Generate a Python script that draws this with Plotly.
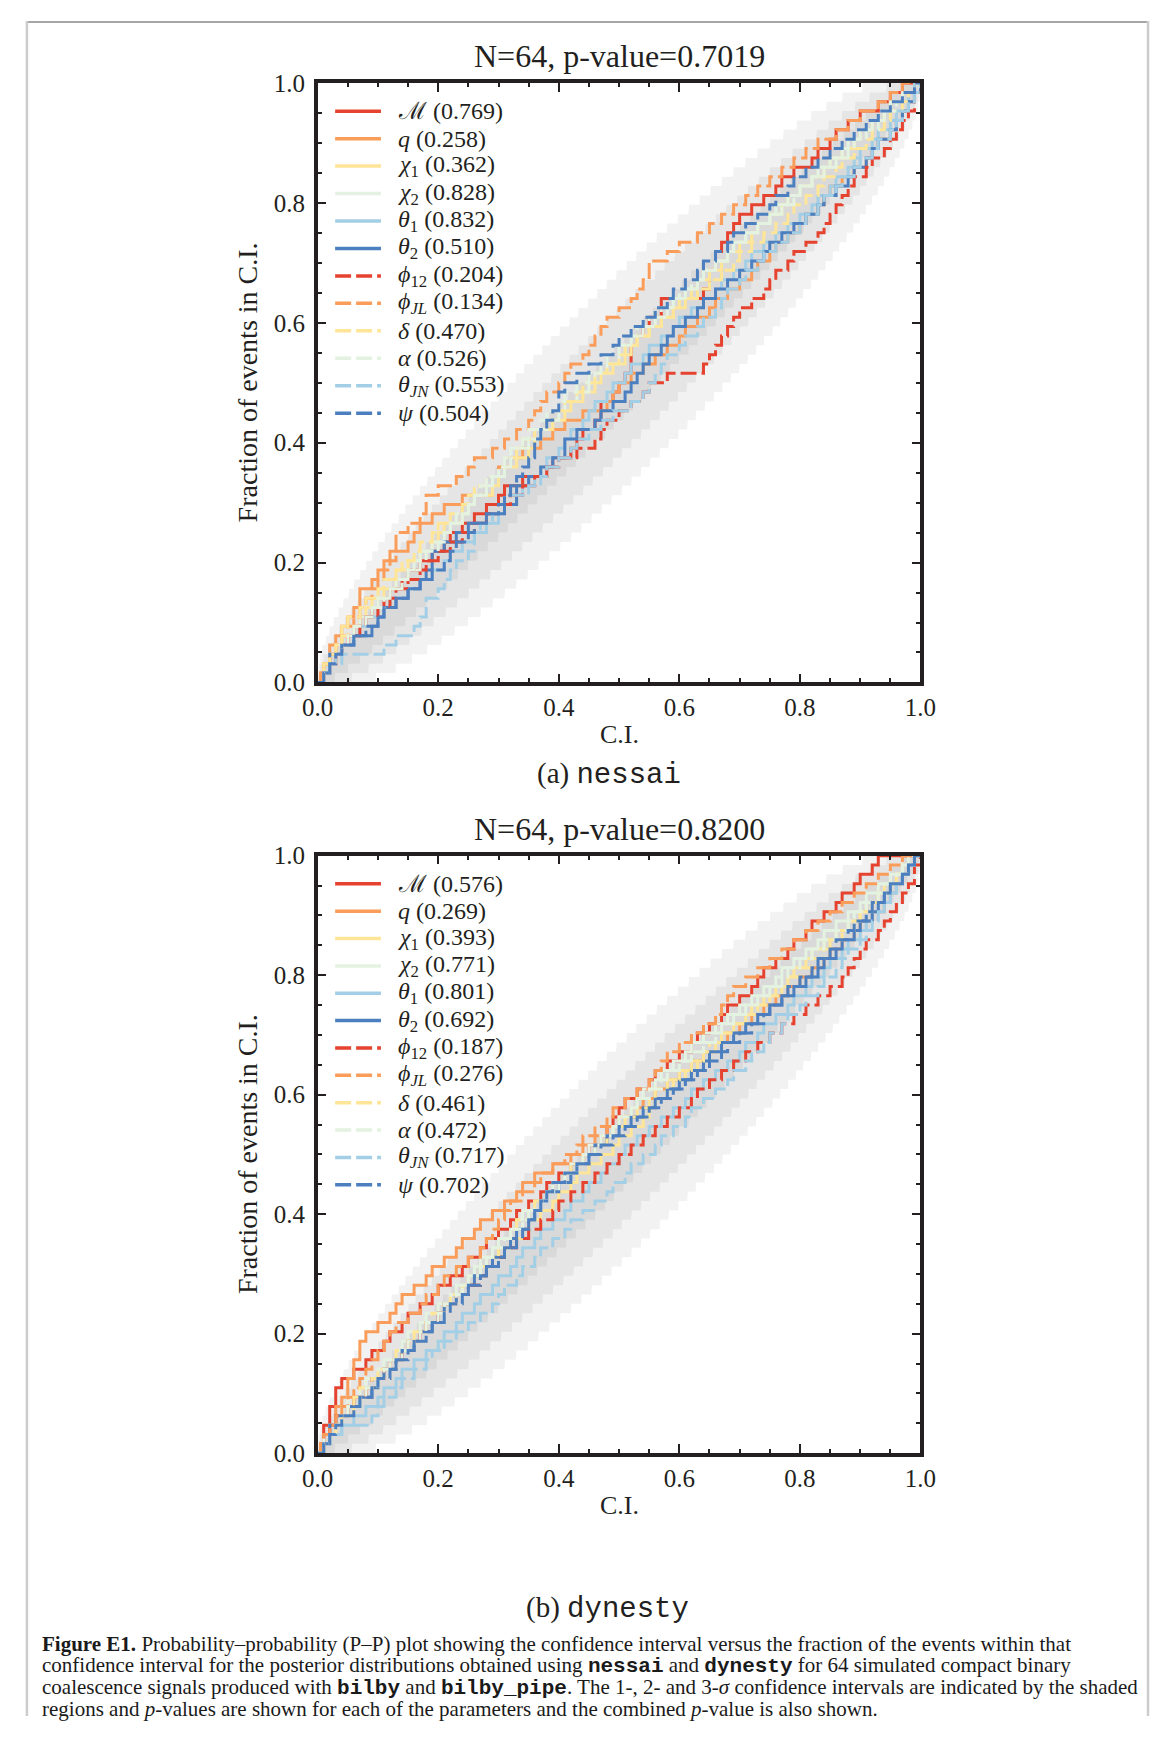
import math
import plotly.graph_objects as go

# page size in px; the html body adds an 8px margin on every side,
# so the figure is made smaller to avoid page overflow
W, H = 1173, 1738
OFF = 8
FW, FH = W - 2 * OFF, H - 2 * OFF

n_events = 64
conf_levels = [0.68, 0.95, 0.997]

param_labels = ['ℳ', '<i>q</i>', '<i>χ</i><sub>1</sub>', '<i>χ</i><sub>2</sub>',
                '<i>θ</i><sub>1</sub>', '<i>θ</i><sub>2</sub>', '<i>ϕ</i><sub>12</sub>',
                '<i>ϕ</i><sub><i>JL</i></sub>', '<i>δ</i>', '<i>α</i>',
                '<i>θ</i><sub><i>JN</i></sub>', '<i>ψ</i>']
param_colors = ['#e5432f', '#fb9d5a', '#fee597', '#e4f2e1', '#a3cfe6', '#4c7fbf',
                '#e5432f', '#fb9d5a', '#fee597', '#e4f2e1', '#a3cfe6', '#4c7fbf']
param_dash = ['solid'] * 6 + ['16px,5px'] * 6

pvals_nessai = [0.769, 0.258, 0.362, 0.828, 0.832, 0.510, 0.204, 0.134, 0.470, 0.526, 0.553, 0.504]
pvals_dynesty = [0.576, 0.269, 0.393, 0.771, 0.801, 0.692, 0.187, 0.276, 0.461, 0.472, 0.717, 0.702]
combined_p = [0.7019, 0.8200]

# sorted credible levels of the 64 injections, per parameter
nessai_mc = [.01,.02,.03,.03,.05,.06,.07,.09,.11,.12,.14,.15,.17,.19,.21,.22,.24,.26,.28,.30,.31,.34,.38,.39,.42,.43,.44,.46,.47,.47,.49,.50,.51,.52,.52,.52,.53,.54,.55,.57,.57,.64,.65,.65,.66,.66,.67,.68,.69,.70,.72,.74,.76,.77,.79,.82,.83,.85,.86,.88,.90,.93,.95,.97]
nessai_q = [.005,.01,.02,.02,.03,.04,.05,.06,.07,.07,.09,.10,.11,.12,.15,.16,.17,.19,.21,.24,.29,.29,.30,.32,.34,.37,.39,.41,.44,.48,.49,.50,.52,.54,.56,.58,.60,.61,.63,.65,.66,.68,.70,.72,.73,.75,.76,.78,.80,.81,.83,.84,.85,.87,.89,.91,.92,.93,.95,.96,.97,.98,.99,1.0]
nessai_chi1 = [.01,.01,.02,.03,.04,.04,.07,.08,.09,.11,.13,.13,.15,.17,.19,.20,.21,.24,.25,.26,.29,.30,.31,.33,.35,.36,.37,.39,.41,.42,.44,.46,.47,.49,.51,.52,.53,.55,.57,.59,.60,.62,.63,.65,.67,.68,.70,.72,.73,.75,.77,.78,.80,.82,.84,.85,.87,.89,.90,.92,.94,.95,.97,.99]
nessai_chi2 = [.01,.02,.02,.03,.05,.06,.07,.09,.10,.12,.13,.15,.16,.17,.19,.21,.22,.24,.25,.26,.28,.29,.31,.32,.33,.35,.37,.38,.40,.41,.43,.45,.46,.48,.50,.51,.53,.54,.56,.58,.59,.61,.63,.64,.66,.68,.69,.71,.73,.75,.76,.78,.80,.82,.83,.85,.87,.88,.90,.92,.94,.95,.97,.99]
nessai_theta1 = [.01,.02,.03,.04,.06,.07,.08,.10,.12,.15,.17,.19,.21,.22,.24,.26,.28,.30,.31,.33,.34,.36,.37,.38,.40,.41,.42,.44,.45,.46,.48,.49,.51,.52,.54,.55,.57,.59,.60,.62,.64,.66,.67,.69,.71,.72,.74,.76,.78,.80,.82,.83,.85,.86,.88,.89,.90,.92,.93,.95,.96,.97,.98,.99]
nessai_theta2 = [.01,.02,.02,.04,.06,.09,.10,.11,.13,.15,.17,.18,.19,.19,.21,.23,.25,.28,.31,.33,.33,.35,.37,.39,.41,.41,.43,.46,.47,.49,.51,.52,.53,.54,.55,.57,.58,.59,.61,.63,.64,.66,.68,.70,.72,.74,.75,.77,.79,.81,.83,.84,.86,.88,.89,.91,.92,.93,.95,.96,.97,.98,.99,1.0]
nessai_phi12 = [.01,.02,.03,.04,.05,.07,.08,.10,.12,.13,.15,.17,.18,.20,.22,.24,.26,.28,.30,.32,.34,.36,.38,.40,.43,.46,.47,.48,.50,.52,.54,.55,.58,.64,.65,.66,.67,.68,.69,.70,.72,.74,.75,.76,.78,.79,.81,.83,.84,.85,.86,.87,.88,.89,.91,.92,.94,.95,.96,.97,.98,.99,.99,1.0]
nessai_phijl = [.005,.01,.02,.03,.04,.05,.06,.07,.08,.09,.10,.11,.12,.13,.13,.13,.15,.17,.18,.18,.20,.23,.25,.26,.29,.31,.33,.35,.36,.37,.38,.40,.41,.42,.44,.45,.46,.47,.48,.50,.52,.53,.54,.55,.55,.58,.60,.63,.65,.67,.69,.71,.73,.75,.77,.79,.81,.83,.86,.88,.90,.93,.95,.97]
nessai_delta = [.01,.01,.02,.03,.04,.05,.05,.07,.08,.10,.11,.13,.14,.16,.17,.19,.20,.22,.24,.25,.26,.28,.30,.31,.33,.34,.36,.38,.39,.41,.43,.44,.46,.48,.50,.51,.53,.55,.57,.59,.61,.63,.65,.67,.69,.70,.72,.74,.76,.78,.79,.81,.83,.84,.86,.87,.89,.91,.92,.94,.95,.97,.98,.99]
nessai_alpha = [.01,.02,.03,.04,.05,.06,.08,.09,.11,.12,.14,.15,.17,.18,.20,.21,.22,.23,.25,.26,.27,.28,.30,.31,.32,.34,.35,.37,.38,.40,.41,.43,.45,.47,.48,.50,.52,.53,.55,.57,.59,.60,.62,.64,.66,.68,.69,.71,.73,.75,.77,.79,.80,.82,.84,.86,.88,.89,.91,.93,.94,.96,.97,.99]
nessai_thetajn = [.01,.02,.04,.11,.13,.16,.17,.18,.18,.20,.21,.22,.23,.25,.26,.26,.27,.29,.30,.31,.35,.37,.38,.40,.42,.43,.45,.47,.49,.52,.54,.55,.56,.57,.58,.60,.61,.63,.64,.66,.67,.68,.70,.71,.73,.74,.76,.78,.80,.81,.83,.84,.86,.87,.89,.90,.92,.93,.95,.96,.97,.98,.99,1.0]
nessai_psi = [.01,.02,.03,.04,.06,.08,.10,.11,.13,.15,.17,.19,.21,.22,.23,.25,.26,.28,.30,.31,.32,.33,.34,.35,.36,.36,.37,.38,.39,.40,.40,.41,.43,.45,.47,.49,.50,.52,.54,.56,.58,.59,.61,.63,.64,.66,.68,.69,.71,.73,.75,.76,.78,.79,.81,.83,.85,.87,.89,.91,.93,.95,.97,.99]

dynesty_mc = [.005,.01,.01,.02,.02,.03,.03,.04,.06,.08,.09,.11,.12,.14,.15,.17,.19,.20,.22,.24,.25,.27,.28,.30,.32,.33,.35,.37,.38,.40,.42,.44,.45,.47,.48,.49,.50,.51,.53,.55,.56,.58,.60,.62,.63,.65,.67,.68,.70,.72,.73,.74,.76,.78,.79,.81,.82,.84,.86,.87,.89,.90,.92,.93]
dynesty_q = [.005,.01,.02,.03,.03,.04,.05,.05,.06,.06,.07,.07,.08,.10,.12,.13,.14,.16,.18,.19,.21,.23,.24,.26,.27,.29,.31,.33,.34,.36,.39,.42,.44,.46,.48,.50,.52,.54,.56,.58,.60,.62,.64,.66,.68,.70,.72,.74,.76,.78,.80,.82,.84,.85,.87,.89,.90,.92,.94,.95,.96,.97,.98,.99]
dynesty_chi1 = [.01,.02,.03,.04,.06,.07,.08,.10,.11,.13,.14,.16,.17,.19,.20,.21,.23,.24,.26,.27,.29,.31,.32,.34,.35,.37,.39,.40,.42,.43,.45,.47,.49,.50,.52,.54,.55,.56,.58,.59,.61,.63,.64,.66,.67,.69,.71,.72,.74,.76,.78,.79,.81,.82,.84,.86,.88,.90,.91,.93,.94,.96,.97,.99]
dynesty_chi2 = [.01,.01,.02,.03,.04,.05,.07,.08,.10,.11,.13,.14,.15,.17,.18,.20,.22,.23,.25,.26,.27,.29,.30,.32,.33,.34,.36,.38,.39,.41,.42,.44,.45,.47,.49,.50,.52,.53,.54,.56,.57,.59,.61,.62,.64,.66,.68,.70,.72,.74,.76,.77,.79,.81,.83,.84,.86,.88,.90,.91,.93,.95,.97,.98]
dynesty_theta1 = [.01,.02,.04,.06,.08,.10,.11,.13,.14,.16,.18,.20,.21,.23,.24,.26,.27,.29,.30,.32,.33,.34,.36,.37,.39,.41,.42,.44,.45,.47,.48,.50,.51,.53,.55,.57,.59,.61,.62,.64,.66,.68,.70,.71,.73,.74,.76,.78,.79,.81,.82,.84,.85,.87,.88,.90,.91,.92,.94,.95,.96,.97,.98,.99]
dynesty_theta2 = [.01,.02,.02,.03,.05,.07,.09,.10,.11,.13,.14,.16,.17,.19,.20,.21,.23,.25,.26,.28,.29,.31,.32,.33,.35,.36,.37,.38,.40,.42,.43,.45,.46,.48,.50,.52,.54,.56,.58,.60,.62,.64,.65,.67,.69,.71,.73,.75,.77,.79,.81,.83,.84,.86,.87,.89,.90,.92,.93,.94,.95,.97,.98,.99]
dynesty_phi12 = [.01,.01,.02,.03,.05,.06,.08,.09,.11,.12,.14,.15,.17,.18,.20,.21,.23,.25,.27,.28,.30,.31,.33,.35,.37,.39,.40,.42,.44,.46,.48,.50,.52,.54,.56,.58,.60,.62,.63,.65,.67,.69,.71,.73,.75,.77,.79,.81,.83,.85,.87,.88,.89,.90,.91,.93,.94,.95,.96,.97,.98,.99,.99,1.0]
dynesty_phijl = [.005,.01,.02,.03,.04,.05,.06,.07,.08,.09,.10,.11,.12,.13,.15,.17,.18,.20,.21,.23,.25,.27,.28,.29,.30,.31,.32,.34,.36,.37,.39,.41,.43,.44,.46,.48,.49,.51,.53,.55,.56,.57,.58,.60,.62,.64,.66,.67,.68,.69,.71,.73,.75,.77,.79,.81,.83,.85,.87,.89,.91,.93,.95,.97]
dynesty_delta = [.01,.02,.03,.04,.05,.06,.07,.09,.10,.12,.13,.15,.16,.18,.19,.21,.22,.24,.25,.27,.28,.30,.31,.32,.33,.35,.36,.38,.39,.41,.42,.44,.46,.48,.49,.51,.53,.55,.56,.58,.60,.62,.64,.65,.67,.69,.71,.73,.75,.77,.78,.80,.82,.84,.85,.87,.89,.90,.92,.93,.95,.96,.98,.99]
dynesty_alpha = [.01,.02,.03,.04,.05,.07,.08,.10,.11,.12,.14,.15,.17,.18,.20,.21,.23,.24,.25,.27,.28,.29,.31,.32,.34,.35,.37,.38,.40,.41,.43,.44,.46,.47,.49,.50,.52,.53,.55,.57,.58,.60,.62,.64,.66,.67,.69,.71,.73,.75,.77,.78,.80,.82,.84,.86,.88,.89,.91,.93,.94,.96,.97,.99]
dynesty_thetajn = [.01,.02,.04,.09,.10,.11,.13,.14,.16,.18,.19,.21,.23,.25,.27,.29,.30,.31,.33,.34,.36,.37,.39,.41,.42,.44,.46,.48,.49,.51,.52,.54,.56,.57,.59,.61,.62,.64,.66,.68,.69,.71,.72,.74,.75,.77,.78,.80,.81,.83,.84,.86,.87,.88,.90,.91,.92,.93,.94,.95,.96,.97,.98,.99]
dynesty_psi = [.01,.02,.03,.04,.06,.07,.09,.10,.12,.13,.15,.16,.18,.19,.21,.22,.24,.25,.27,.28,.30,.31,.33,.34,.35,.36,.37,.38,.39,.41,.43,.45,.47,.49,.51,.53,.55,.57,.59,.61,.63,.65,.67,.68,.70,.72,.74,.75,.77,.78,.80,.82,.83,.85,.86,.88,.89,.91,.92,.94,.95,.97,.98,.99]

nessai_levels = [nessai_mc, nessai_q, nessai_chi1, nessai_chi2, nessai_theta1, nessai_theta2,
                 nessai_phi12, nessai_phijl, nessai_delta, nessai_alpha, nessai_thetajn, nessai_psi]
dynesty_levels = [dynesty_mc, dynesty_q, dynesty_chi1, dynesty_chi2, dynesty_theta1, dynesty_theta2,
                  dynesty_phi12, dynesty_phijl, dynesty_delta, dynesty_alpha, dynesty_thetajn, dynesty_psi]

SERIF = 'Liberation Serif'
INK = '#231f20'


# page px -> paper fraction
def px(x):
    return (x - OFF) / FW


def py(y):
    return 1 - (y - OFF) / FH


def binom_ppf(q, n, p):
    if p <= 0:
        return 0
    if p >= 1:
        return n
    cdf = 0.0
    for k in range(n + 1):
        cdf += math.comb(n, k) * p ** k * (1 - p) ** (n - k)
        if cdf >= q - 1e-12:
            return k
    return n


grid = [i / 1000 for i in range(1001)]

fig = go.Figure()

panels = [
    dict(xa='x', ya='y', levels=nessai_levels, pvals=pvals_nessai, comb=combined_p[0]),
    dict(xa='x2', ya='y2', levels=dynesty_levels, pvals=pvals_dynesty, comb=combined_p[1]),
]

for pan in panels:
    # 1-, 2-, 3-sigma bands
    for ci in conf_levels:
        edge = (1 - ci) / 2
        hi = [binom_ppf(1 - edge, n_events, g) / n_events for g in grid]
        lo = [binom_ppf(edge, n_events, g) / n_events for g in grid]
        hi[0] = 0
        lo[0] = 0
        fig.add_trace(go.Scatter(
            x=grid + grid[::-1], y=hi + lo[::-1], fill='toself',
            fillcolor='rgba(0,0,0,0.05)', line=dict(width=0), mode='lines',
            hoverinfo='skip', showlegend=False, xaxis=pan['xa'], yaxis=pan['ya']))
    # pp curves
    for i, lev in enumerate(pan['levels']):
        xs = [0.0] + list(lev) + [1.0]
        ys = [0.0] + [(k + 1) / n_events for k in range(len(lev))] + [1.0]
        fig.add_trace(go.Scatter(
            x=xs, y=ys, mode='lines', line_shape='hv',
            line=dict(color=param_colors[i], width=3, dash=param_dash[i]),
            showlegend=False, xaxis=pan['xa'], yaxis=pan['ya']))

axis_common = dict(
    range=[0, 1], showgrid=False, zeroline=False,
    showline=True, linewidth=3.5, linecolor=INK, mirror='allticks',
    ticks='inside', ticklen=9, tickwidth=2, tickcolor=INK,
    tickvals=[0, 0.2, 0.4, 0.6, 0.8, 1.0], ticktext=['0.0', '0.2', '0.4', '0.6', '0.8', '1.0'],
    minor=dict(ticks='inside', dtick=0.05, ticklen=4.5, tickwidth=1.5, tickcolor=INK),
    tickfont=dict(family=SERIF, size=25, color=INK),
)

xdom = [px(310), px(930)]
fig.update_layout(
    width=FW, height=FH, margin=dict(l=0, r=0, t=0, b=0),
    paper_bgcolor='white', plot_bgcolor='white',
    xaxis=dict(axis_common, domain=xdom, anchor='y'),
    yaxis=dict(axis_common, domain=[py(680), py(71)], anchor='x', ticklabelstandoff=4),
    xaxis2=dict(axis_common, domain=xdom, anchor='y2'),
    yaxis2=dict(axis_common, domain=[py(1463), py(856)], anchor='x2', ticklabelstandoff=4),
)

ann = []
for pan, top, bot in [(panels[0], 71, 680), (panels[1], 856, 1463)]:
    xr, yr = pan['xa'], pan['ya']
    # legend drawn inside the axes
    for i, lab in enumerate(param_labels):
        yv = 0.953 - i * 0.0458
        fig.add_shape(type='line', xref=xr, yref=yr, x0=0.029, x1=0.105, y0=yv, y1=yv,
                      line=dict(color=param_colors[i], width=3.5, dash=param_dash[i]))
        ann.append(dict(xref=xr, yref=yr, x=0.13, y=yv, xanchor='left', yanchor='middle',
                        text='%s (%.3f)' % (lab, pan['pvals'][i]), showarrow=False,
                        font=dict(family=SERIF, size=24, color=INK)))
    ann.append(dict(xref='paper', yref='paper', x=px(620), y=py(top - 27), xanchor='center',
                    yanchor='middle', showarrow=False,
                    text='N=64, p-value=%.4f' % pan['comb'],
                    font=dict(family=SERIF, size=32, color=INK)))
    ann.append(dict(xref='paper', yref='paper', x=px(620), y=py(bot + 53), xanchor='center',
                    yanchor='middle', showarrow=False, text='C.I.',
                    font=dict(family=SERIF, size=26, color=INK)))
    ann.append(dict(xref='paper', yref='paper', x=px(238), y=py((top + bot) / 2), xanchor='center',
                    yanchor='middle', showarrow=False, textangle=-90,
                    text='Fraction of events in C.I.',
                    font=dict(family=SERIF, size=28, color=INK)))

mono = "<span style=\"font-family:'Liberation Mono'\">%s</span>"
ann.append(dict(xref='paper', yref='paper', x=px(610), y=py(773), xanchor='center', yanchor='middle',
                showarrow=False, text='(a) ' + mono % 'nessai',
                font=dict(family=SERIF, size=29, color=INK)))
ann.append(dict(xref='paper', yref='paper', x=px(608), y=py(1621), xanchor='center', yanchor='middle',
                showarrow=False, text='(b) ' + mono % 'dynesty',
                font=dict(family=SERIF, size=29, color=INK)))

caption_lines = [
    '<b>Figure E1.</b> Probability–probability (P–P) plot showing the confidence interval versus the fraction of the events within that',
    'confidence interval for the posterior distributions obtained using ' + mono % '<b>nessai</b>' + ' and ' + mono % '<b>dynesty</b>' + ' for 64 simulated compact binary',
    'coalescence signals produced with ' + mono % '<b>bilby</b>' + ' and ' + mono % '<b>bilby_pipe</b>' + '. The 1-, 2- and 3-<i>σ</i> confidence intervals are indicated by the shaded',
    'regions and <i>p</i>-values are shown for each of the parameters and the combined <i>p</i>-value is also shown.',
]
for j, line in enumerate(caption_lines):
    ann.append(dict(xref='paper', yref='paper', x=px(24), y=py(1657 + j * 22), xanchor='left',
                    yanchor='middle', showarrow=False, text=line, align='left',
                    font=dict(family=SERIF, size=21, color='#1a1a1a')))

fig.update_layout(annotations=ann)

# page frame
fig.add_shape(type='line', xref='paper', yref='paper', x0=px(11), x1=px(1164), y0=0.9994, y1=0.9994,
              line=dict(color='#a6a6a6', width=2))
fig.add_shape(type='line', xref='paper', yref='paper', x0=px(11), x1=px(11), y0=1, y1=0,
              line=dict(color='#cccccc', width=2.5))
fig.add_shape(type='line', xref='paper', yref='paper', x0=px(1164), x1=px(1164), y0=1, y1=0,
              line=dict(color='#cccccc', width=2.5))

fig.write_html("out.html")
